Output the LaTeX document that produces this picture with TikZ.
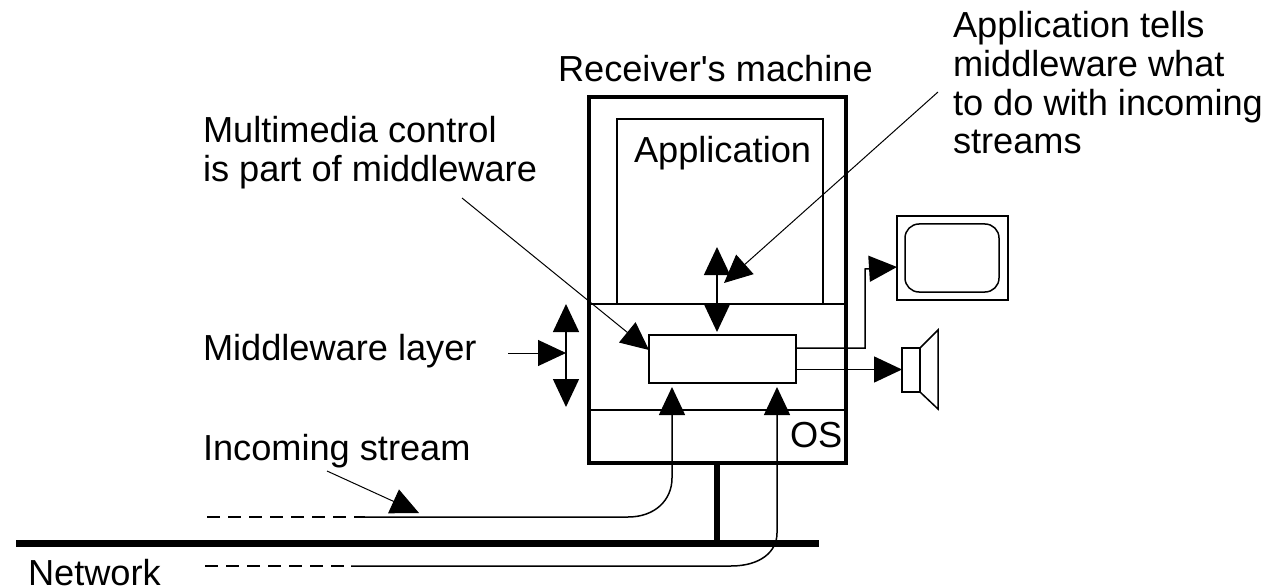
\documentclass[tikz,border=0pt]{standalone}
\usepackage{fontspec}
\setmainfont[Ligatures=TeXOff]{Liberation Sans}
\usetikzlibrary{arrows.meta}
\tikzset{
  x=0.5pt,y=-0.5pt,
  thinbox/.style={draw=black,line width=0.75pt,inner sep=0pt,outer sep=0pt,anchor=north west},
  heavybox/.style={draw=black,line width=2pt,inner sep=0pt,outer sep=0pt,anchor=north west},
  wire/.style={line width=0.75pt,black},
  pointer/.style={line width=0.5pt,black},
  arrowend/.style={-{Triangle[length=14pt,width=13pt]}},
  arrowboth/.style={{Triangle[length=14pt,width=13pt]}-{Triangle[length=14pt,width=13pt]}},
  brokenline/.style={line width=0.6pt,black,dash pattern=on 6.3pt off 4.2pt},
  lbl/.style={inner sep=0pt,outer sep=0pt,anchor=base west,align=left,font=\fontsize{18.1}{19.3}\selectfont}
}
\begin{document}
\begin{tikzpicture}
\useasboundingbox (0,0) rectangle (1273,588);
% boxes
\node[thinbox,minimum width=103pt,minimum height=92.5pt] (app) at (617,119) {};
\node[thinbox,minimum width=73.5pt,minimum height=24pt] (mw) at (649,335) {};
\node[thinbox,minimum width=55.5pt,minimum height=42pt] (tv) at (897,216) {};
\node[thinbox,minimum width=47pt,minimum height=34pt,rounded corners=7pt] (screen) at (905,224) {};
\node[thinbox,minimum width=9pt,minimum height=22pt] (spk) at (902,348) {};
\draw[wire] (spk.north east) -- (938,330) -- (938,409) -- (spk.south east);
\coordinate (recvL) at (589,304);
\coordinate (recvR) at (846,304);
\coordinate (osL) at (589,410);
\coordinate (osR) at (846,410);
\draw[wire] (recvL) -- (recvR);
\draw[wire] (osL) -- (osR);
% network and machine
\node[fill=black,inner sep=0pt,outer sep=0pt,anchor=north west,minimum width=401.5pt,minimum height=3.5pt] (net) at (16,539.5) {};
\node[heavybox,minimum width=128.5pt,minimum height=183pt] (recv) at (589,97) {};
\coordinate (stemTop) at (717,463);
\coordinate (stemBot) at (717,543);
\draw[line width=3pt,black] (stemTop) -- (stemBot);
% incoming streams
\coordinate (s1a) at (207,517);
\coordinate (s1b) at (365,517);
\coordinate (s1c) at (628,517);
\coordinate (s1d) at (672,478);
\coordinate (s1e) at (672,387);
\coordinate (s2a) at (205,566);
\coordinate (s2b) at (345,566);
\coordinate (s2s) at (351,566);
\coordinate (s2c) at (731,566);
\coordinate (s2d) at (777,533);
\coordinate (s2e) at (777,387);
\draw[brokenline] (s1a) -- (s1b);
\draw[brokenline] (s2a) -- (s2b);
\draw[wire,arrowend] (s1b) -- (s1c) .. controls (655,517) and (672,500) .. (s1d) -- (s1e);
\draw[wire,arrowend] (s2s) -- (s2c) .. controls (760,566) and (777,552) .. (s2d) -- (s2e);
% outputs
\coordinate (tvA) at (796,348);
\coordinate (tvB) at (865,348);
\coordinate (tvC) at (865,269);
\coordinate (spA) at (796,369.5);
\coordinate (spB) at (902,369.5);
\draw[wire,arrowend] (tvA) -- (tvB) -- (tvC) -- (tv.west |- 0,267);
\draw[wire,arrowend] (spA) -- (spB);
% double arrows
\coordinate (appT) at (717,247);
\coordinate (appB) at (717,332);
\draw[wire,arrowboth] (appT) -- (appB);
\coordinate (layT) at (566,304);
\coordinate (layB) at (566,407);
\draw[wire,arrowboth] (layT) -- (layB);
% pointers
\coordinate (p1a) at (938,92);
\coordinate (p1b) at (724,283);
\draw[pointer,arrowend] (p1a) -- (p1b);
\coordinate (p2a) at (462,198);
\coordinate (p2b) at (649,350);
\draw[pointer,arrowend] (p2a) -- (p2b);
\coordinate (p3a) at (508,353);
\coordinate (p3b) at (566,353);
\draw[pointer,arrowend] (p3a) -- (p3b);
\coordinate (p4a) at (327,471);
\coordinate (p4b) at (419,513);
\draw[pointer,arrowend] (p4a) -- (p4b);
% labels
\node[lbl] (tRecv) at (558,82) {Receiver's machine};
\node[lbl] (tApp) at (634,163) {Application};
\node[lbl] (tOS) at (790,447) {OS};
\node[lbl] (tLayer) at (203,360) {Middleware layer};
\node[lbl] (tStream) at (203,460) {Incoming stream};
\node[lbl] (tNet) at (28,585) {Network};
\node[lbl] (tMM) at (203,143) {Multimedia control};
\node[lbl] (tMM2) at (203,182) {is part of middleware};
\node[lbl] (tT1) at (953,38) {Application tells};
\node[lbl] (tT2) at (953,77) {middleware what};
\node[lbl] (tT3) at (953,116) {to do with incoming};
\node[lbl] (tT4) at (953,154) {streams};
\end{tikzpicture}
\end{document}
